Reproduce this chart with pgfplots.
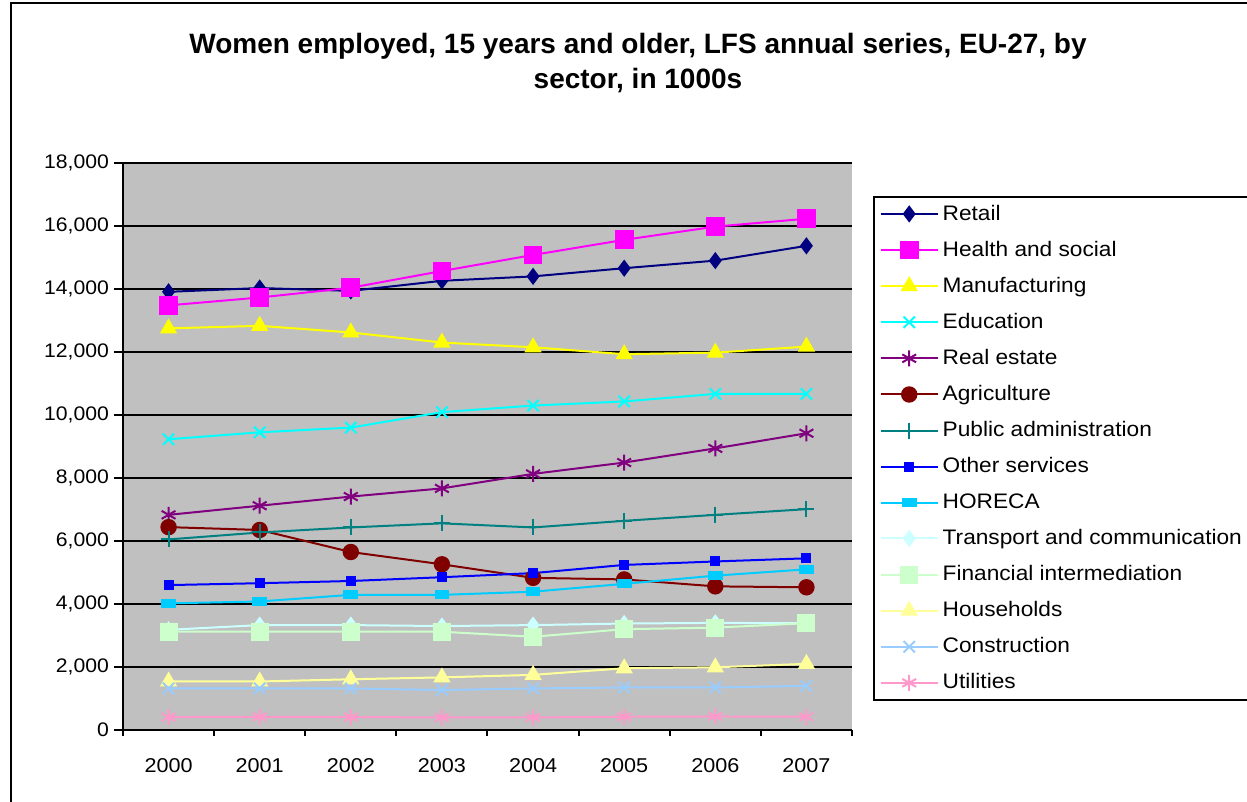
\documentclass[border=0pt]{standalone}
\usepackage{fontspec}
\setmainfont{Liberation Sans}
\newfontfamily\legfont[FakeStretch=1.08]{Liberation Sans}
\usepackage{pgfplots}
\usepackage{pgfplotstable}
\pgfplotsset{compat=1.18}
\definecolor{plotbg}{RGB}{192,192,192}
\definecolor{cretail}{RGB}{0,0,128}
\definecolor{chealth}{RGB}{255,0,255}
\definecolor{cmanuf}{RGB}{255,255,0}
\definecolor{ceduc}{RGB}{0,255,255}
\definecolor{creal}{RGB}{128,0,128}
\definecolor{cagri}{RGB}{128,0,0}
\definecolor{cpub}{RGB}{0,128,128}
\definecolor{cother}{RGB}{0,0,255}
\definecolor{choreca}{RGB}{0,204,255}
\definecolor{ctransp}{RGB}{204,255,255}
\definecolor{cfin}{RGB}{204,255,204}
\definecolor{chouse}{RGB}{255,255,153}
\definecolor{cconstr}{RGB}{153,204,255}
\definecolor{cutil}{RGB}{255,153,204}
\pgfplotstableread{
x retail health manuf educ real agri pub other horeca transp fin house constr util
0 13910 13480 12750 9230 6830 6440 6050 4600 4020 3180 3120 1540 1320 410
1 14030 13730 12830 9450 7120 6350 6270 4660 4080 3330 3120 1540 1320 420
2 13940 14040 12620 9600 7410 5650 6430 4730 4290 3330 3120 1610 1320 410
3 14260 14570 12300 10090 7670 5260 6560 4850 4290 3300 3120 1670 1270 400
4 14400 15080 12150 10300 8130 4830 6430 4980 4390 3330 2960 1750 1320 400
5 14660 15560 11930 10430 8490 4780 6640 5240 4640 3380 3200 1960 1350 420
6 14900 15980 11980 10670 8940 4560 6830 5350 4900 3400 3250 1990 1350 430
7 15370 16230 12170 10670 9420 4530 7010 5450 5100 3390 3390 2100 1400 420
}\datatable
\begin{document}
\begin{tikzpicture}[x=0.5pt,y=0.5pt]
\useasboundingbox (0,0) rectangle (1247,802);
\clip (0,0) rectangle (1247,802);
\fill[white] (0,0) rectangle (1247,802);
\draw[line width=1pt] (11,-5) -- (11,799) -- (1260,799);
\node[font=\bfseries\fontsize{14}{17.5}\selectfont, align=center] at (638,739) {Women employed, 15 years and older, LFS annual series, EU-27, by\\sector, in 1000s};
\begin{axis}[
  at={(61.5pt,36pt)}, anchor=south west,
  scale only axis, width=364.5pt, height=283.5pt,
  xmin=-0.5, xmax=7.5, ymin=0, ymax=18000,
  axis background/.style={fill=plotbg},
  axis lines=left, axis line style={-, black, line width=1pt},
  ytick={0,2000,...,18000},
  scaled y ticks=false,
  xtick={0,...,7}, xticklabels={2000,2001,2002,2003,2004,2005,2006,2007},
  minor xtick={-0.5,0.5,...,7.5},
  tick align=outside, tick pos=left,
  x tick style={draw=none}, minor x tick style={draw=black, line width=1pt},
  minor tick length=3pt,
  y tick style={black, line width=1pt}, major tick length=4.5pt,
  ymajorgrids, grid style={black, line width=1pt},
  xticklabel style={font=\legfont\fontsize{10}{12}\selectfont, yshift=-6pt},
  yticklabel style={font=\legfont\fontsize{9.8}{12}\selectfont, xshift=1pt},
  /pgf/number format/.cd, 1000 sep={,}, assume math mode=true,
  /pgfplots/.cd,
  clip=false,
  legend style={at={(1.0288,0.9418)}, anchor=north west, draw=black, line width=0.8pt, fill=white,
    font=\legfont\fontsize{10.5}{12}\selectfont, row sep=4.95pt, inner xsep=3pt, inner ysep=2pt},
  legend cell align=left,
  legend image code/.code={\draw[mark repeat=2,mark phase=2,line width=1pt] plot coordinates {(0cm,0cm)(0.5cm,0cm)(1.0cm,0cm)};},
  every axis plot/.append style={line width=1pt},
]
\addplot[cretail, mark=diamond*, mark size=3.5pt, mark options={solid}] table[x=x,y=retail]{\datatable};
\addlegendentry{Retail}
\addplot[chealth, mark=square*, mark size=4.2pt] table[x=x,y=health]{\datatable};
\addlegendentry{Health and social}
\addplot[cmanuf, mark=triangle*, mark size=4pt] table[x=x,y=manuf]{\datatable};
\addlegendentry{Manufacturing}
\addplot[ceduc, mark=x, mark size=4pt] table[x=x,y=educ]{\datatable};
\addlegendentry{Education}
\addplot[creal, mark=asterisk, mark size=4pt] table[x=x,y=real]{\datatable};
\addlegendentry{Real estate}
\addplot[cagri, mark=*, mark size=3.6pt] table[x=x,y=agri]{\datatable};
\addlegendentry{Agriculture}
\addplot[cpub, mark=+, mark size=4pt] table[x=x,y=pub]{\datatable};
\addlegendentry{Public administration}
\addplot[cother, mark=square*, mark size=2pt] table[x=x,y=other]{\datatable};
\addlegendentry{Other services}
\addplot[choreca, mark=square*, mark size=2pt, mark options={xscale=1.6,yscale=0.9}] table[x=x,y=horeca]{\datatable};
\addlegendentry{HORECA}
\addplot[ctransp, mark=diamond*, mark size=3.5pt] table[x=x,y=transp]{\datatable};
\addlegendentry{Transport and communication}
\addplot[cfin, mark=square*, mark size=4pt] table[x=x,y=fin]{\datatable};
\addlegendentry{Financial intermediation}
\addplot[chouse, mark=triangle*, mark size=4pt] table[x=x,y=house]{\datatable};
\addlegendentry{Households}
\addplot[cconstr, mark=x, mark size=4pt] table[x=x,y=constr]{\datatable};
\addlegendentry{Construction}
\addplot[cutil, mark=asterisk, mark size=4pt] table[x=x,y=util]{\datatable};
\addlegendentry{Utilities}
\end{axis}
\end{tikzpicture}
\end{document}
